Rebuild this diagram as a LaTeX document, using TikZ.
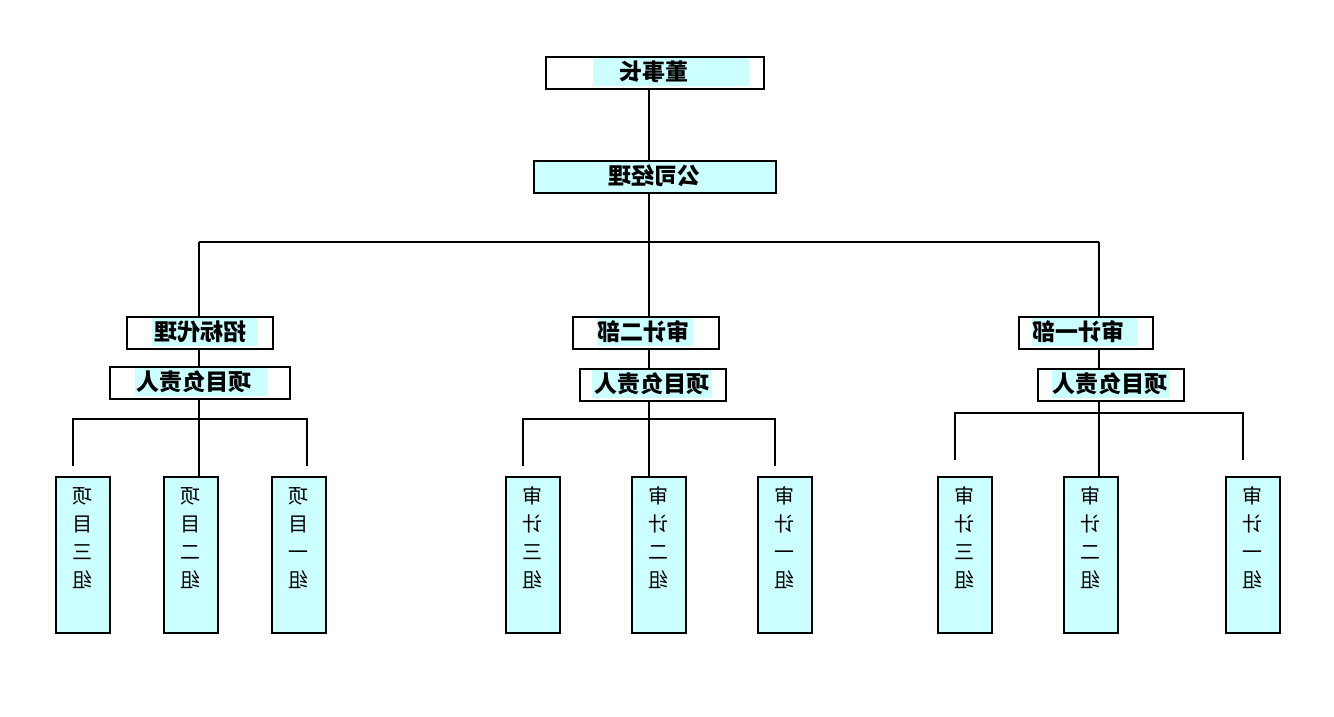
\documentclass[tikz,border=0pt]{standalone}
\usepackage{fontspec}
\usepackage{graphicx}
\newfontfamily\cjk{Noto Sans CJK SC}
\definecolor{hl}{HTML}{CCFFFF}
\newcommand\mir[1]{\reflectbox{#1}}
\newcommand\vcol[4]{\reflectbox{\begin{tabular}{@{}c@{}}#1\\#2\\#3\\#4\end{tabular}}}
\tikzset{
  box/.style={draw=black,line width=1.6pt,fill=white,inner sep=0pt,anchor=north west},
  vbox/.style={draw=black,line width=1.6pt,fill=hl,inner sep=0pt,anchor=north west,minimum width=54pt,minimum height=156pt},
  lbl/.style={font=\cjk\bfseries\fontsize{23}{26}\selectfont,inner sep=0pt},
  vlbl/.style={font=\cjk\fontsize{20}{28}\selectfont,inner sep=0pt,anchor=north},
  conn/.style={line width=1.6pt,draw=black},
}
\begin{document}
\begin{tikzpicture}[x=1pt,y=-1pt]
\useasboundingbox (0,0) rectangle (1334,716);
% top boxes
\node[box,minimum width=218pt,minimum height=32pt] (chair) at (545,56) {};
\fill[hl] (593,58) rectangle (749,86);
\node[lbl] (chairT) at (654,72) {\mir{董事长}};
\node[box,fill=hl,minimum width=242pt,minimum height=32pt] (mgr) at (533,160) {};
\node[lbl] (mgrT) at (654,176) {\mir{公司经理}};
% second level
\node[box,minimum width=146pt,minimum height=32pt] (zb) at (126,316) {};
\fill[hl] (152,318) rectangle (258,346);
\node[lbl] (zbT) at (200,332) {\mir{招标代理}};
\node[box,minimum width=146pt,minimum height=32pt] (sj2) at (572,316) {};
\fill[hl] (597,318) rectangle (693,346);
\node[lbl] (sj2T) at (643,332) {\mir{审计二部}};
\node[box,minimum width=134pt,minimum height=32pt] (sj1) at (1018,316) {};
\fill[hl] (1032,318) rectangle (1138,346);
\node[lbl] (sj1T) at (1078,332) {\mir{审计一部}};
% project leaders
\node[box,minimum width=180pt,minimum height=32pt] (pl1) at (109,366) {};
\fill[hl] (135,368) rectangle (267,396);
\node[lbl] (pl1T) at (194,382) {\mir{项目负责人}};
\node[box,minimum width=146pt,minimum height=32pt] (pl2) at (579,368) {};
\fill[hl] (592,370) rectangle (712,398);
\node[lbl] (pl2T) at (652,384) {\mir{项目负责人}};
\node[box,minimum width=146pt,minimum height=32pt] (pl3) at (1037,368) {};
\fill[hl] (1052,370) rectangle (1170,398);
\node[lbl] (pl3T) at (1110,384) {\mir{项目负责人}};
% vertical boxes
\node[vbox] (a1) at (55,476) {};
\node[vlbl] (a1T) at (82,484) {\vcol{项}{目}{三}{组}};
\node[vbox] (a2) at (163,476) {};
\node[vlbl] (a2T) at (190,484) {\vcol{项}{目}{二}{组}};
\node[vbox] (a3) at (271,476) {};
\node[vlbl] (a3T) at (298,484) {\vcol{项}{目}{一}{组}};
\node[vbox] (b1) at (505,476) {};
\node[vlbl] (b1T) at (532,484) {\vcol{审}{计}{三}{组}};
\node[vbox] (b2) at (631,476) {};
\node[vlbl] (b2T) at (658,484) {\vcol{审}{计}{二}{组}};
\node[vbox] (b3) at (757,476) {};
\node[vlbl] (b3T) at (784,484) {\vcol{审}{计}{一}{组}};
\node[vbox] (c1) at (937,476) {};
\node[vlbl] (c1T) at (964,484) {\vcol{审}{计}{三}{组}};
\node[vbox] (c2) at (1063,476) {};
\node[vlbl] (c2T) at (1090,484) {\vcol{审}{计}{二}{组}};
\node[vbox] (c3) at (1225,476) {};
\node[vlbl] (c3T) at (1252,484) {\vcol{审}{计}{一}{组}};
% coordinates
\coordinate (bus) at (649,242);
\coordinate (busL) at (199,242);
\coordinate (busR) at (1099,242);
\coordinate (gL1) at (73,419); \coordinate (gL1e) at (73,466);
\coordinate (gL3) at (307,419); \coordinate (gL3e) at (307,466);
\coordinate (gM1) at (523,419); \coordinate (gM1e) at (523,466);
\coordinate (gM3) at (775,419); \coordinate (gM3e) at (775,466);
\coordinate (gR1) at (955,413); \coordinate (gR1e) at (955,460);
\coordinate (gR3) at (1243,413); \coordinate (gR3e) at (1243,460);
% connectors
\draw[conn] (649,88) -- (649,160);
\draw[conn] (649,192) -- (bus);
\draw[conn] (busL) -- (busR);
\draw[conn] (busL) -- (199,316);
\draw[conn] (bus) -- (649,316);
\draw[conn] (busR) -- (1099,316);
\draw[conn] (199,348) -- (199,366);
\draw[conn] (649,348) -- (649,368);
\draw[conn] (1099,348) -- (1099,368);
\draw[conn] (199,398) -- (199,476);
\draw[conn] (649,400) -- (649,476);
\draw[conn] (1099,400) -- (1099,476);
\draw[conn] (gL1e) -- (gL1) -- (gL3) -- (gL3e);
\draw[conn] (gM1e) -- (gM1) -- (gM3) -- (gM3e);
\draw[conn] (gR1e) -- (gR1) -- (gR3) -- (gR3e);
\end{tikzpicture}
\end{document}
